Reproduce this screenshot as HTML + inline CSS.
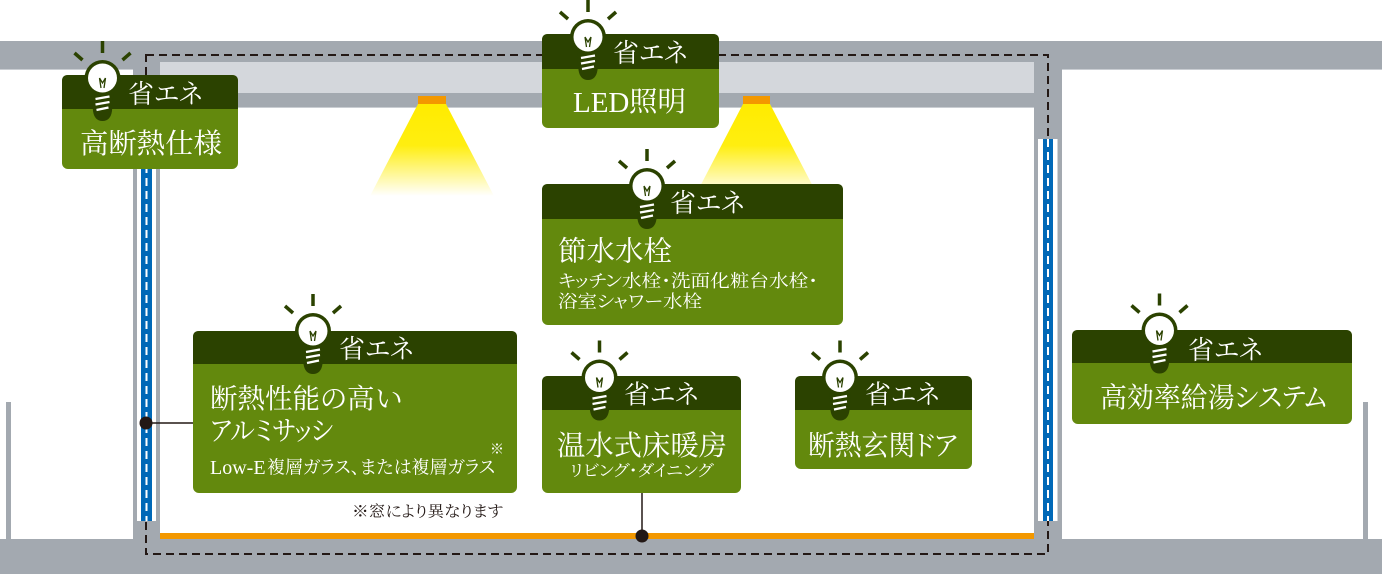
<!DOCTYPE html>
<html><head><meta charset="utf-8"><style>
html,body{margin:0;padding:0;background:#fff;}
svg{display:block;}
text{font-family:"Liberation Serif","Noto Serif CJK SC",serif;font-feature-settings:"palt" 1;}
.w{fill:#fff;}
</style></head><body>
<svg width="1382" height="574" viewBox="0 0 1382 574" xmlns="http://www.w3.org/2000/svg">
<defs>
<linearGradient id="lg" x1="0" y1="0" x2="0" y2="1">
<stop offset="0" stop-color="#ffec00"/>
<stop offset="0.45" stop-color="#ffee10"/>
<stop offset="1" stop-color="#ffffff"/>
</linearGradient>
<g id="bulb">
<line x1="0" y1="-37" x2="0" y2="-25" stroke="#2b4200" stroke-width="3.5"/>
<line x1="-28" y1="-25" x2="-20" y2="-18" stroke="#2b4200" stroke-width="3.5"/>
<line x1="28" y1="-25" x2="20" y2="-18" stroke="#2b4200" stroke-width="3.5"/>
<path d="M-11,12 L11,12 L9.5,33 Q8,43 0,43 Q-8,43 -9.5,33 Z" fill="#2b4200"/>
<circle r="18" fill="#2b4200"/>
<circle r="14.5" fill="#fff"/>
<path d="M-7,21 L7,18.5 M-7,26.5 L7,24 M-6,32 L6,29.5" stroke="#fff" stroke-width="2.2" fill="none"/>
<path d="M-3,0 L-1.5,10 M3,0 L1.5,10 M-3,0 L0,5 L3,0" stroke="#2b4200" stroke-width="1.3" fill="none"/>
</g>
</defs>

<!-- walls -->
<rect x="0" y="41" width="160" height="28" fill="#a3a9b0"/>
<rect x="1034" y="41" width="348" height="28" fill="#a3a9b0"/>
<rect x="160" y="41" width="874" height="21" fill="#a3a9b0"/>
<rect x="160" y="62" width="874" height="31" fill="#d4d7dc"/>
<rect x="160" y="93" width="874" height="14" fill="#a3a9b0"/>
<rect x="133" y="41" width="27" height="533" fill="#a3a9b0"/>
<rect x="1034" y="41" width="28" height="533" fill="#a3a9b0"/>
<rect x="0" y="539" width="1382" height="35" fill="#a3a9b0"/>
<rect x="6" y="402" width="5" height="137" fill="#a3a9b0"/>
<rect x="1363" y="402" width="5" height="137" fill="#a3a9b0"/>
<line x1="0" y1="69.5" x2="133" y2="69.5" stroke="#c9cdd2" stroke-width="1"/>
<line x1="1062" y1="69.5" x2="1382" y2="69.5" stroke="#c9cdd2" stroke-width="1"/>
<line x1="160" y1="107.5" x2="1034" y2="107.5" stroke="#c9cdd2" stroke-width="1"/>

<!-- floor -->
<rect x="160" y="533" width="874" height="6" fill="#f39800"/>

<!-- lights -->
<polygon points="418,104 446,104 494,196 370,196" fill="url(#lg)"/>
<polygon points="743,104 770,104 818,196 695,196" fill="url(#lg)"/>
<rect x="418" y="96" width="28" height="8" fill="#f39800"/>
<rect x="743" y="96" width="27" height="8" fill="#f39800"/>

<!-- dashed outline -->
<rect x="146" y="55" width="902" height="499" fill="none" stroke="#231815" stroke-width="2" stroke-dasharray="8 5"/>

<!-- windows -->
<rect x="137" y="139" width="19" height="382" fill="#fff"/>
<rect x="141" y="139" width="11" height="382" fill="#0068b7"/>
<line x1="146.5" y1="139" x2="146.5" y2="521" stroke="#fff" stroke-width="2" stroke-dasharray="8 5"/>
<rect x="1038" y="139" width="19.5" height="382" fill="#fff"/>
<rect x="1043" y="139" width="10" height="382" fill="#0068b7"/>
<line x1="1048" y1="139" x2="1048" y2="521" stroke="#fff" stroke-width="2" stroke-dasharray="8 5"/>

<!-- connectors -->
<line x1="146" y1="423" x2="194" y2="423" stroke="#231815" stroke-width="1.5"/>
<circle cx="146" cy="423" r="6.5" fill="#231815"/>
<line x1="642" y1="493" x2="642" y2="536" stroke="#231815" stroke-width="1.5"/>
<circle cx="642" cy="536" r="6.5" fill="#231815"/>

<!-- boxes -->
<rect x="62" y="75" width="176" height="94" rx="6" fill="#63890d"/>
<path d="M62,109 V81 Q62,75 68,75 H232 Q238,75 238,81 V109 Z" fill="#2b4200"/>

<rect x="542" y="34" width="177" height="94" rx="6" fill="#63890d"/>
<path d="M542,69 V40 Q542,34 548,34 H713 Q719,34 719,40 V69 Z" fill="#2b4200"/>

<rect x="542" y="184" width="301" height="141" rx="6" fill="#63890d"/>
<path d="M542,219 V190 Q542,184 548,184 H837 Q843,184 843,190 V219 Z" fill="#2b4200"/>

<rect x="193" y="331" width="324" height="162" rx="6" fill="#63890d"/>
<path d="M193,364 V337 Q193,331 199,331 H511 Q517,331 517,337 V364 Z" fill="#2b4200"/>

<rect x="542" y="376" width="199" height="117" rx="6" fill="#63890d"/>
<path d="M542,410 V382 Q542,376 548,376 H735 Q741,376 741,382 V410 Z" fill="#2b4200"/>

<rect x="795" y="376" width="177" height="93" rx="6" fill="#63890d"/>
<path d="M795,410 V382 Q795,376 801,376 H966 Q972,376 972,382 V410 Z" fill="#2b4200"/>

<rect x="1072" y="330" width="280" height="94" rx="6" fill="#63890d"/>
<path d="M1072,363 V336 Q1072,330 1078,330 H1346 Q1352,330 1352,336 V363 Z" fill="#2b4200"/>

<!-- bulbs -->
<use href="#bulb" x="102.5" y="78"/>
<use href="#bulb" x="588" y="37"/>
<use href="#bulb" x="647" y="186"/>
<use href="#bulb" x="313" y="331"/>
<use href="#bulb" x="599.5" y="377.5"/>
<use href="#bulb" x="840" y="377.5"/>
<use href="#bulb" x="1159.5" y="330.5"/>

<!-- header texts -->
<text class="w" x="128" y="103" font-size="26">省エネ</text>
<text class="w" x="613" y="62" font-size="26">省エネ</text>
<text class="w" x="670" y="212" font-size="26">省エネ</text>
<text class="w" x="339" y="358" font-size="26">省エネ</text>
<text class="w" x="624" y="403.5" font-size="26">省エネ</text>
<text class="w" x="865" y="403.5" font-size="26">省エネ</text>
<text class="w" x="1188" y="359" font-size="26">省エネ</text>

<!-- main texts -->
<text class="w" x="80" y="153" font-size="28" textLength="142" lengthAdjust="spacingAndGlyphs">高断熱仕様</text>
<text class="w" x="573" y="112" font-size="29">LED</text>
<text class="w" x="629" y="111" font-size="28" textLength="57" lengthAdjust="spacingAndGlyphs">照明</text>

<text class="w" x="558" y="260.5" font-size="28" textLength="114" lengthAdjust="spacingAndGlyphs">節水水栓</text>
<text class="w" x="558" y="287" font-size="17.5" textLength="260" lengthAdjust="spacingAndGlyphs">キッチン水栓・洗面化粧台水栓・</text>
<text class="w" x="558" y="307.5" font-size="17.5" textLength="144" lengthAdjust="spacingAndGlyphs">浴室シャワー水栓</text>

<text class="w" x="210" y="408" font-size="27.5" textLength="192" lengthAdjust="spacingAndGlyphs">断熱性能の高い</text>
<text class="w" x="210" y="440" font-size="27.5" textLength="123" lengthAdjust="spacingAndGlyphs">アルミサッシ</text>
<text class="w" x="210" y="474" font-size="20">Low-E</text>
<text class="w" x="267" y="473.5" font-size="18" textLength="228" lengthAdjust="spacingAndGlyphs">複層ガラス、または複層ガラス</text>
<text class="w" x="490" y="454" font-size="14">※</text>
<text x="352" y="516.5" font-size="15.5" fill="#231815" textLength="151" lengthAdjust="spacingAndGlyphs">※窓により異なります</text>

<text class="w" x="557" y="455" font-size="28" textLength="170" lengthAdjust="spacingAndGlyphs">温水式床暖房</text>
<text class="w" x="570" y="476" font-size="16" textLength="143" lengthAdjust="spacingAndGlyphs">リビング・ダイニング</text>

<text class="w" x="808" y="455" font-size="28" textLength="149" lengthAdjust="spacingAndGlyphs">断熱玄関ドア</text>

<text class="w" x="1100" y="407" font-size="28" textLength="227" lengthAdjust="spacingAndGlyphs">高効率給湯システム</text>
</svg>
</body></html>
